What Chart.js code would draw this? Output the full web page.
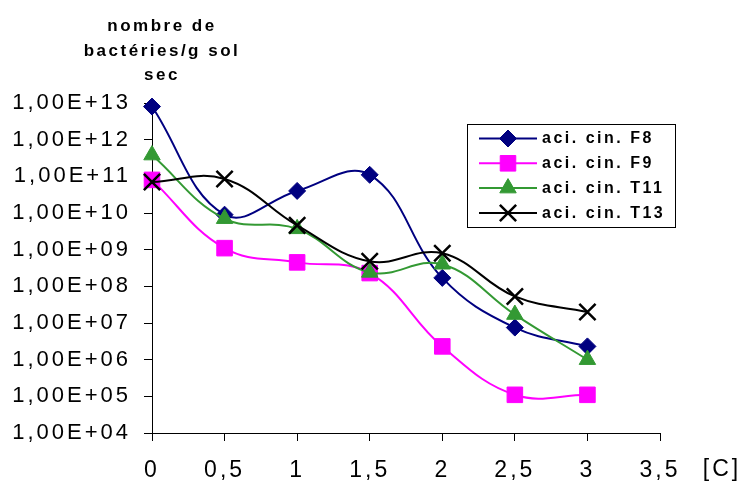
<!DOCTYPE html>
<html>
<head>
<meta charset="utf-8">
<script src="https://cdn.jsdelivr.net/npm/chart.js@4/dist/chart.umd.min.js"></script>
<style>
  html, body { margin: 0; padding: 0; background: #fff; }
  canvas { display: block; }
</style>
</head>
<body>
<canvas id="chart" width="744" height="482"></canvas>
<script>
// Concentration steps on the x axis
const concentrations = [0, 0.5, 1, 1.5, 2, 2.5, 3];

// Bacterial counts per gram of dry soil, one array per series
const seriesNames = ['aci. cin. F8', 'aci. cin. F9', 'aci. cin. T11', 'aci. cin. T13'];
const countsF8  = [8e12, 9e9,   4e10,  1.1e11, 1.7e8, 7.5e6, 2.3e6];
const countsF9  = [8e10, 1.1e9, 4.5e8, 2.3e8,  2.3e6, 1.1e5, 1.1e5];
const countsT11 = [3.8e11, 7e9, 3.7e9, 2.4e8,  4e8,   1.7e7, 1e6];
const countsT13 = [7e10, 8.5e10, 4.6e9, 4.8e8, 8e8,   5.3e7, 2e7];

// Axis ticks and their printed labels
const xTickValues = [0, 0.5, 1, 1.5, 2, 2.5, 3, 3.5];
const xTickLabels = ['0', '0,5', '1', '1,5', '2', '2,5', '3', '3,5'];
const yTickValues = [1e4, 1e5, 1e6, 1e7, 1e8, 1e9, 1e10, 1e11, 1e12, 1e13];
const yTickLabels = ['1,00E+04', '1,00E+05', '1,00E+06', '1,00E+07', '1,00E+08',
                     '1,00E+09', '1,00E+10', '1,00E+11', '1,00E+12', '1,00E+13'];
const yTitleLines = ['nombre de', 'bactéries/g sol', 'sec'];
const xUnit = '[C]';

const FONT = "'Liberation Sans', Arial, Helvetica, sans-serif";

function series(label, values, color, style, radius, borderWidth, order) {
  return {
    label: label,
    data: concentrations.map((x, i) => ({ x: x, y: values[i] })),
    borderColor: color,
    backgroundColor: color,
    borderWidth: 2,
    tension: 0.4,
    fill: false,
    pointStyle: style,
    pointRadius: radius,
    pointHoverRadius: radius,
    pointBackgroundColor: color,
    pointBorderColor: color,
    pointBorderWidth: borderWidth,
    order: order,
    clip: false
  };
}

const datasets = [
  series(seriesNames[0], countsF8,  '#000080', 'rectRot',  8.5, 1,   4),
  series(seriesNames[1], countsF9,  '#ff00ff', 'rect',     11,  1,   3),
  series(seriesNames[2], countsT11, '#339933', 'triangle', 9.5, 1,   2),
  series(seriesNames[3], countsT13, '#000000', 'crossRot', 11.5, 2.5, 1)
];

// Axis title, unit label and boxed legend drawn over the chart
const decorations = {
  id: 'decorations',
  beforeDraw(chart) {
    chart.ctx.letterSpacing = '3px';
  },
  afterDraw(chart) {
    const ctx = chart.ctx;
    ctx.save();
    ctx.fillStyle = '#000';

    ctx.letterSpacing = '2.5px';
    ctx.font = 'bold 17px ' + FONT;
    ctx.textAlign = 'center';
    ctx.textBaseline = 'alphabetic';
    yTitleLines.forEach((t, i) => ctx.fillText(t, 162, 31 + i * 24.7));

    ctx.letterSpacing = '3px';
    ctx.font = '23px ' + FONT;
    ctx.fillText(xUnit, 722, 476);

    // legend box
    ctx.fillStyle = '#fff';
    ctx.fillRect(467.5, 124.5, 208, 103);
    ctx.strokeStyle = '#000';
    ctx.lineWidth = 1;
    ctx.strokeRect(467.5, 124.5, 208, 103);

    chart.data.datasets.forEach((ds, i) => {
      const y = 138.5 + i * 24.8;
      ctx.strokeStyle = ds.borderColor;
      ctx.lineWidth = 2;
      ctx.beginPath();
      ctx.moveTo(479, y);
      ctx.lineTo(537, y);
      ctx.stroke();

      ctx.fillStyle = ds.pointBackgroundColor;
      ctx.strokeStyle = ds.pointBorderColor;
      ctx.lineWidth = ds.pointBorderWidth;
      Chart.helpers.drawPoint(ctx, {
        pointStyle: ds.pointStyle,
        radius: ds.pointRadius,
        borderWidth: ds.pointBorderWidth,
        rotation: 0
      }, 508, y);

      ctx.fillStyle = '#000';
      ctx.letterSpacing = '2.5px';
      ctx.font = 'bold 16px ' + FONT;
      ctx.textAlign = 'left';
      ctx.textBaseline = 'middle';
      ctx.fillText(ds.label, 542, y + 0.5);
    });
    ctx.restore();
  }
};

new Chart(document.getElementById('chart'), {
  type: 'line',
  data: { datasets: datasets },
  plugins: [decorations],
  options: {
    responsive: false,
    animation: false,
    devicePixelRatio: 1,
    layout: { padding: { left: 0, top: 103, right: 84, bottom: 0 } },
    plugins: {
      legend: { display: false },
      tooltip: { enabled: false },
      title: { display: false }
    },
    scales: {
      x: {
        type: 'linear',
        min: 0,
        max: 3.5,
        afterBuildTicks: s => { s.ticks = xTickValues.map(v => ({ value: v })); },
        afterFit: s => { s.height = 49; },
        grid: { drawOnChartArea: false, drawTicks: true, tickLength: 8, color: '#000', lineWidth: 1 },
        border: { display: true, color: '#000', width: 1 },
        ticks: {
          color: '#000',
          padding: 16,
          autoSkip: false,
          maxRotation: 0,
          font: { family: FONT, size: 23 },
          callback: (v, i) => xTickLabels[i]
        }
      },
      y: {
        type: 'logarithmic',
        min: 1e4,
        max: 1e13,
        afterBuildTicks: s => { s.ticks = yTickValues.map(v => ({ value: v })); },
        afterFit: s => { s.width = 152; },
        grid: { drawOnChartArea: false, drawTicks: true, tickLength: 8, color: '#000', lineWidth: 1 },
        border: { display: true, color: '#000', width: 1 },
        ticks: {
          color: '#000',
          padding: 13,
          autoSkip: false,
          font: { family: FONT, size: 22 },
          callback: (v, i) => yTickLabels[i]
        }
      }
    }
  }
});
</script>
</body>
</html>
